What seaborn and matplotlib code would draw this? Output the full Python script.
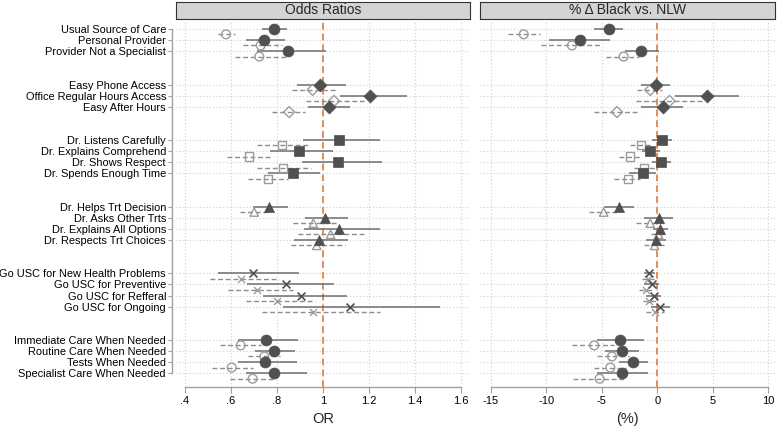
import numpy as np
import pandas as pd
import matplotlib
matplotlib.use("Agg")
import matplotlib.pyplot as plt
import seaborn as sns

categories = [
    "Usual Source of Care", "Personal Provider", "Provider Not a Specialist",
    "Easy Phone Access", "Office Regular Hours Access", "Easy After Hours",
    "Dr. Listens Carefully", "Dr. Explains Comprehend", "Dr. Shows Respect", "Dr. Spends Enough Time",
    "Dr. Helps Trt Decision", "Dr. Asks Other Trts", "Dr. Explains All Options", "Dr. Respects Trt Choices",
    "Go USC for New Health Problems", "Go USC for Preventive", "Go USC for Refferal", "Go USC for Ongoing",
    "Immediate Care When Needed", "Routine Care When Needed", "Tests When Needed", "Specialist Care When Needed",
]
group = [0, 0, 0, 1, 1, 1, 2, 2, 2, 2, 3, 3, 3, 3, 4, 4, 4, 4, 5, 5, 5, 5]
group_markers = ["o", "D", "s", "^", "x", "o"]

# Odds ratios: dark (solid) and light (dashed) estimates
or_a = [0.787, 0.745, 0.848, 0.987, 1.205, 1.025, 1.068, 0.896, 1.067, 0.868, 0.767, 1.009, 1.071, 0.984,
        0.697, 0.838, 0.903, 1.117, 0.751, 0.788, 0.748, 0.788]
or_a_lo = [0.733, 0.665, 0.714, 0.888, 1.074, 0.936, 0.914, 0.770, 0.907, 0.762, 0.697, 0.922, 0.917, 0.874,
           0.545, 0.668, 0.738, 0.827, 0.632, 0.704, 0.632, 0.665]
or_a_hi = [0.845, 0.835, 1.012, 1.100, 1.367, 1.117, 1.248, 1.042, 1.257, 0.987, 0.846, 1.110, 1.248, 1.110,
           0.896, 1.049, 1.103, 1.509, 0.893, 0.878, 0.886, 0.929]
or_b = [0.578, 0.729, 0.723, 0.955, 1.048, 0.853, 0.820, 0.677, 0.827, 0.762, 0.701, 0.958, 1.033, 0.973,
        0.642, 0.714, 0.799, 0.958, 0.642, 0.745, 0.603, 0.694]
or_b_lo = [0.542, 0.651, 0.617, 0.864, 0.926, 0.780, 0.714, 0.584, 0.711, 0.675, 0.639, 0.871, 0.893, 0.860,
           0.509, 0.586, 0.664, 0.733, 0.552, 0.675, 0.516, 0.597]
or_b_hi = [0.617, 0.820, 0.849, 1.055, 1.180, 0.922, 0.936, 0.781, 0.946, 0.849, 0.767, 1.060, 1.180, 1.096,
           0.810, 0.871, 0.965, 1.250, 0.729, 0.813, 0.694, 0.796]

# Percent difference Black vs NLW
pct_a = [-4.38, -7.0, -1.44, -0.12, 4.47, 0.48, 0.42, -0.63, 0.33, -1.32, -3.42, 0.12, 0.27, -0.09,
         -0.72, -0.48, -0.33, 0.21, -3.33, -3.18, -2.19, -3.18]
pct_a_lo = [-5.73, -9.8, -2.94, -1.44, 1.62, -1.44, -0.48, -1.38, -0.48, -2.58, -4.83, -1.17, -0.39, -0.99,
            -1.23, -1.17, -0.99, -0.54, -5.43, -4.68, -3.48, -5.43]
pct_a_hi = [-3.09, -4.29, 0.12, 1.17, 7.39, 2.37, 1.32, 0.21, 1.23, -0.09, -2.13, 1.41, 0.93, 0.78,
            -0.18, 0.12, 0.33, 1.17, -1.23, -1.68, -0.84, -0.87]
pct_b = [-12.05, -7.7, -3.03, -0.63, 1.11, -3.63, -1.44, -2.49, -1.17, -2.67, -4.83, -0.63, 0.12, -0.24,
         -0.87, -0.99, -0.72, -0.18, -5.68, -4.08, -4.23, -5.2]
pct_b_lo = [-13.5, -10.5, -4.62, -1.83, -1.89, -5.68, -2.43, -3.48, -2.13, -3.93, -6.18, -1.92, -0.57, -1.17,
            -1.38, -1.68, -1.29, -0.99, -7.7, -5.43, -5.73, -7.6]
pct_b_hi = [-10.6, -4.98, -1.62, 0.42, 4.17, -1.53, -0.63, -1.53, -0.18, -1.53, -3.63, 0.57, 0.81, 0.66,
            -0.33, -0.33, -0.09, 0.63, -3.93, -2.58, -2.79, -3.03]

or_ticks = [0.4, 0.6, 0.8, 1.0, 1.2, 1.4, 1.6]
or_ticklabels = [".4", ".6", ".8", "1", "1.2", "1.4", "1.6"]
pct_ticks = [-15, -10, -5, 0, 5, 10]
pct_ticklabels = ["-15", "-10", "-5", "0", "5", "10"]

sns.set_theme(style="white")
plt.rcParams['font.family'] = ['Liberation Sans', 'DejaVu Sans']

rows = np.arange(len(categories)) + 2 * np.array(group)
OFF = 0.48


def build(est_a, lo_a, hi_a, est_b, lo_b, hi_b):
    da = pd.DataFrame({"cat": categories, "grp": group, "y": rows, "est": est_a, "lo": lo_a, "hi": hi_a,
                       "kind": "a"})
    db = pd.DataFrame({"cat": categories, "grp": group, "y": rows + OFF, "est": est_b, "lo": lo_b, "hi": hi_b,
                       "kind": "b"})
    return pd.concat([da, db], ignore_index=True)


df_or = build(or_a, or_a_lo, or_a_hi, or_b, or_b_lo, or_b_hi)
df_pct = build(pct_a, pct_a_lo, pct_a_hi, pct_b, pct_b_lo, pct_b_hi)

W, H = 778, 429
fig = plt.figure(figsize=(W / 100, H / 100), dpi=100)


def rect(x0, x1, y0, y1):
    return [x0 / W, 1 - y1 / H, (x1 - x0) / W, (y1 - y0) / H]


DARK = "#505050"
DARKLINE = "#6e6e6e"
LIGHT = "#9c9c9c"
LIGHTLINE = "#8c8c8c"
ORANGE = "#E07B39"
GRID = "#cfcfcf"
SPINE = "#a0a0a0"


def draw_panel(ax, df, ref, xlim, ticks, ticklabels, xlabel, title, strip_rect, show_y):
    ax.set_facecolor("white")
    if show_y:
        ax.spines["left"].set_position(("outward", 3))
    a = df[df.kind == "a"]
    b = df[df.kind == "b"]
    ax.hlines(b["y"], b["lo"], b["hi"], colors=LIGHTLINE, linestyles=(0, (3.5, 2)), linewidth=1.0, zorder=2)
    ax.hlines(a["y"], a["lo"], a["hi"], colors=DARKLINE, linewidth=1.1, zorder=2)
    ax.axvline(ref, color=ORANGE, linestyle=(0, (4, 2.5)), linewidth=1.2, zorder=1.5)
    for g, m in enumerate(group_markers):
        sb = b[b.grp == g]
        sa = a[a.grp == g]
        if m == "x":
            sns.scatterplot(data=sb, x="est", y="y", marker="x", s=26, color=LIGHT, linewidth=1.0, ax=ax,
                            zorder=3, legend=False)
            sns.scatterplot(data=sa, x="est", y="y", marker="x", s=32, color=DARK, linewidth=1.2, ax=ax,
                            zorder=4, legend=False)
        else:
            sz_a = {"o": 62, "D": 44, "s": 48, "^": 52}[m]
            sz_b = {"o": 40, "D": 32, "s": 34, "^": 36}[m]
            sns.scatterplot(data=sb, x="est", y="y", marker=m, s=sz_b, facecolors="none", edgecolor=LIGHT,
                            linewidth=1.0, ax=ax, zorder=3, legend=False)
            sns.scatterplot(data=sa, x="est", y="y", marker=m, s=sz_a, color=DARK, edgecolor=DARK,
                            linewidth=0.5, ax=ax, zorder=4, legend=False)
    ax.set_xlim(*xlim)
    ax.set_ylim(32.2, -0.63)
    ax.set_xticks(ticks)
    ax.set_xticklabels(ticklabels)
    ax.set_yticks(rows)
    if show_y:
        ax.set_yticklabels(categories)
        ax.tick_params(axis="y", length=3, width=0.8, color=SPINE, pad=1.2, left=True, labelsize=7.9,
                       labelcolor="black")
        ax.spines["left"].set_bounds(rows.min(), rows.max())
        ax.spines["left"].set_color(SPINE)
        ax.spines["left"].set_linewidth(1.0)
    else:
        ax.set_yticklabels([])
        ax.tick_params(axis="y", length=0)
        ax.spines["left"].set_visible(False)
    ax.tick_params(axis="x", length=4, width=0.8, color=SPINE, pad=3, bottom=True, labelsize=8,
                   labelcolor="black")
    ax.spines["bottom"].set_bounds(ticks[0], ticks[-1])
    ax.spines["bottom"].set_color(SPINE)
    ax.spines["bottom"].set_linewidth(1.0)
    ax.spines["top"].set_visible(False)
    ax.spines["right"].set_visible(False)
    ax.grid(True, linestyle=(0, (1, 2)), color=GRID, linewidth=0.8)
    ax.set_axisbelow(True)
    ax.set_xlabel(xlabel, fontsize=10.5, labelpad=4)
    ax.set_ylabel("")
    sax = fig.add_axes(strip_rect)
    sax.set_facecolor("#d4d4d4")
    sax.set_xticks([])
    sax.set_yticks([])
    for sp in sax.spines.values():
        sp.set_color("#333333")
        sp.set_linewidth(0.8)
    sax.text(0.5, 0.5, title, ha="center", va="center", fontsize=10, transform=sax.transAxes)


axL = fig.add_axes(rect(176, 470, 22, 386.7))
axR = fig.add_axes(rect(480, 775, 22, 386.7))

draw_panel(axL, df_or, 1.0, (0.4 - 9 / 230, 1.6 + 9 / 230), or_ticks, or_ticklabels, "OR", "Odds Ratios",
           rect(176, 470, 2, 19), True)
draw_panel(axR, df_pct, 0.0, (-15 - 11 / 11.1, 10 + 7 / 11.1), pct_ticks, pct_ticklabels, "(%)",
           "% \u0394 Black vs. NLW", rect(480, 775, 2, 19), False)

fig.savefig("out.png", dpi=100, facecolor="white")
